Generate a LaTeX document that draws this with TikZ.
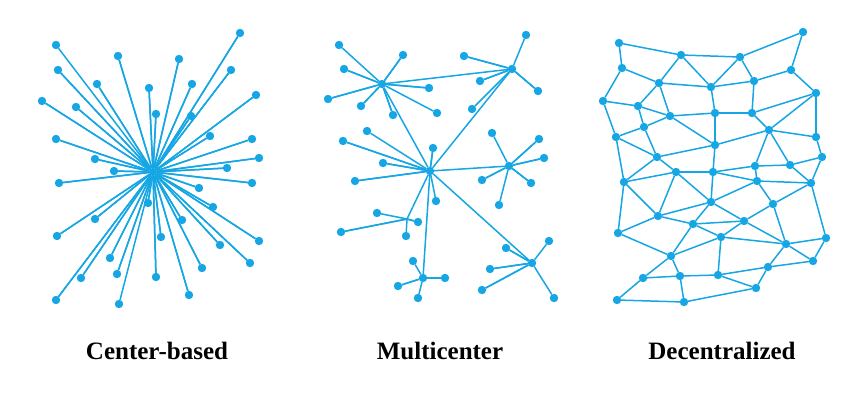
\documentclass[tikz,border=0pt]{standalone}
\usepackage{fontspec}
\setmainfont{Liberation Serif}
\usepackage{tikz}
\usepackage{tkz-graph}
\definecolor{netblue}{RGB}{22,166,228}

\begin{document}
\begin{tikzpicture}[x=0.5pt, y=-0.5pt]
        \GraphInit[vstyle=Simple]
        \SetVertexNoLabel
        \tikzset{VertexStyle/.style={shape=circle, fill=netblue, draw=none, inner sep=0pt, minimum size=4.2pt},
                 EdgeStyle/.style={draw=netblue, line width=0.75pt},
                 caption/.style={font=\fontsize{12.5}{15}\selectfont\bfseries, text=black}}
        \useasboundingbox (0,0) rectangle (865,407);

        % center-based
        \Vertex[x=153,y=172]{C}
        \Vertex[x=56,y=45]{P1} \Vertex[x=118,y=56]{P2} \Vertex[x=179,y=59]{P3} \Vertex[x=240,y=33]{P4}
        \Vertex[x=58,y=70]{P5} \Vertex[x=231,y=70]{P6} \Vertex[x=97,y=84]{P7} \Vertex[x=149,y=88]{P8}
        \Vertex[x=192,y=84]{P9} \Vertex[x=42,y=101]{P10} \Vertex[x=76,y=107]{P11} \Vertex[x=256,y=95]{P12}
        \Vertex[x=156,y=114]{P13} \Vertex[x=191,y=116]{P14} \Vertex[x=56,y=139]{P15} \Vertex[x=210,y=136]{P16}
        \Vertex[x=252,y=139]{P17} \Vertex[x=95,y=159]{P18} \Vertex[x=259,y=158]{P19} \Vertex[x=114,y=171]{P20}
        \Vertex[x=227,y=168]{P21} \Vertex[x=59,y=183]{P22} \Vertex[x=252,y=183]{P23} \Vertex[x=199,y=188]{P24}
        \Vertex[x=148,y=203]{P25} \Vertex[x=213,y=207]{P26} \Vertex[x=95,y=219]{P27} \Vertex[x=182,y=220]{P28}
        \Vertex[x=57,y=236]{P29} \Vertex[x=161,y=237]{P30} \Vertex[x=259,y=241]{P31} \Vertex[x=220,y=245]{P32}
        \Vertex[x=110,y=258]{P33} \Vertex[x=250,y=263]{P34} \Vertex[x=202,y=268]{P35} \Vertex[x=117,y=274]{P36}
        \Vertex[x=81,y=278]{P37} \Vertex[x=156,y=277]{P38} \Vertex[x=189,y=295]{P39} \Vertex[x=56,y=300]{P40}
        \Vertex[x=119,y=304]{P41}
        \Edges(P1,C,P2,C,P3,C,P4,C,P5,C,P6,C,P7,C,P8,C,P9,C,P10,C,P11,C,P12,C,P13,C,P14)
        \Edges(P14,C,P15,C,P16,C,P17,C,P18,C,P19,C,P20,C,P21,C,P22,C,P23,C,P24,C,P25,C,P26,C,P27)
        \Edges(P27,C,P28,C,P29,C,P30,C,P31,C,P32,C,P33,C,P34,C,P35,C,P36,C,P37,C,P38,C,P39,C,P40,C,P41)

        % multicenter
        \Vertex[x=382,y=84]{H1} \Vertex[x=512,y=69]{H2} \Vertex[x=430,y=171]{H3}
        \Vertex[x=509,y=166]{H4} \Vertex[x=423,y=278]{H6} \Vertex[x=532,y=263]{H7}
        \coordinate (J) at (407,219);
        \Vertex[x=339,y=45]{Q1} \Vertex[x=403,y=55]{Q2} \Vertex[x=344,y=69]{Q3} \Vertex[x=328,y=99]{Q4}
        \Vertex[x=429,y=88]{Q5} \Vertex[x=361,y=106]{Q6} \Vertex[x=393,y=115]{Q7} \Vertex[x=437,y=113]{Q8}
        \Vertex[x=526,y=35]{Q9} \Vertex[x=464,y=56]{Q10} \Vertex[x=480,y=81]{Q11} \Vertex[x=538,y=91]{Q12}
        \Vertex[x=472,y=109]{Q13}
        \Vertex[x=367,y=131]{Q14} \Vertex[x=343,y=141]{Q15} \Vertex[x=433,y=148]{Q16} \Vertex[x=383,y=163]{Q17}
        \Vertex[x=355,y=181]{Q18} \Vertex[x=436,y=201]{Q19}
        \Vertex[x=492,y=133]{Q20} \Vertex[x=539,y=139]{Q21} \Vertex[x=544,y=158]{Q22} \Vertex[x=482,y=180]{Q23}
        \Vertex[x=531,y=183]{Q24} \Vertex[x=499,y=205]{Q25}
        \Vertex[x=377,y=213]{Q26} \Vertex[x=418,y=222]{Q27} \Vertex[x=341,y=232]{Q28} \Vertex[x=406,y=236]{Q29}
        \Vertex[x=413,y=261]{Q30} \Vertex[x=445,y=278]{Q31} \Vertex[x=398,y=286]{Q32} \Vertex[x=418,y=298]{Q33}
        \Vertex[x=549,y=241]{Q34} \Vertex[x=506,y=248]{Q35} \Vertex[x=490,y=269]{Q36} \Vertex[x=482,y=290]{Q37}
        \Vertex[x=554,y=298]{Q38}
        \Edges(Q1,H1,Q2,H1,Q3,H1,Q4,H1,Q5,H1,Q6,H1,Q7,H1,Q8)
        \Edges(Q9,H2,Q10,H2,Q11,H2,Q12,H2,Q13)
        \Edges(Q14,H3,Q15,H3,Q16,H3,Q17,H3,Q18,H3,Q19)
        \Edges(Q20,H4,Q21,H4,Q22,H4,Q23,H4,Q24,H4,Q25)
        \Edges(Q26,J,Q27,J,Q28,J,Q29)
        \Edges(Q30,H6,Q31,H6,Q32,H6,Q33)
        \Edges(Q34,H7,Q35,H7,Q36,H7,Q37,H7,Q38)
        \Edges(H1,H2,H3,H1) \Edges(H4,H3,J) \Edges(H6,H3,H7)

        % decentralized
        \Vertex[x=619,y=43]{a1} \Vertex[x=681,y=55]{a2} \Vertex[x=740,y=57]{a3} \Vertex[x=803,y=32]{a4}
        \Vertex[x=622,y=68]{b1} \Vertex[x=659,y=83]{b2} \Vertex[x=711,y=87]{b3} \Vertex[x=754,y=81]{b4}
        \Vertex[x=791,y=70]{b5}
        \Vertex[x=603,y=101]{c1} \Vertex[x=638,y=106]{c2} \Vertex[x=670,y=116]{c3} \Vertex[x=715,y=113]{c4}
        \Vertex[x=752,y=113]{c5} \Vertex[x=816,y=93]{c6}
        \Vertex[x=644,y=127]{d1} \Vertex[x=616,y=137]{d2} \Vertex[x=769,y=130]{d3} \Vertex[x=816,y=137]{d4}
        \Vertex[x=715,y=145]{e1} \Vertex[x=657,y=157]{e2} \Vertex[x=822,y=157]{e3}
        \Vertex[x=755,y=166]{f1} \Vertex[x=790,y=165]{f2} \Vertex[x=676,y=172]{f3} \Vertex[x=713,y=172]{f4}
        \Vertex[x=624,y=182]{g1} \Vertex[x=757,y=181]{g2} \Vertex[x=811,y=183]{g3}
        \Vertex[x=711,y=202]{h1} \Vertex[x=773,y=204]{h2}
        \Vertex[x=658,y=216]{i1} \Vertex[x=693,y=224]{i2} \Vertex[x=744,y=221]{i3}
        \Vertex[x=618,y=233]{j1} \Vertex[x=721,y=237]{j2} \Vertex[x=786,y=244]{j3} \Vertex[x=826,y=238]{j4}
        \Vertex[x=671,y=256]{k1} \Vertex[x=813,y=261]{k2} \Vertex[x=768,y=267]{k3}
        \Vertex[x=643,y=278]{l1} \Vertex[x=680,y=276]{l2} \Vertex[x=718,y=275]{l3} \Vertex[x=756,y=288]{l4}
        \Vertex[x=617,y=300]{m1} \Vertex[x=684,y=302]{m2}
        \Edges(b1,a1,a2,a3,a4,b5,b4,b3,b2,b1,c1,c2,b2,c3,c2,d1,c3,c4,c5,c6,b5)
        \Edges(a2,b2) \Edges(a2,b3,a3,b4,c5,d3,c6,d4,e3,f2,d3,d4) \Edges(b3,c4,e1,c3) \Edges(c1,d2,d1,e2,d2,g1)
        \Edges(e2,e1,d3,f1) \Edges(e1,f4,f3,e2,g1,f3,i1,g1,j1,i1,h1,f3)
        \Edges(f4,f1,f2,g3,g2,f1) \Edges(f4,g2,h1,f4) \Edges(g2,h2,g3,e3) \Edges(g3,j4)
        \Edges(h1,i2,i1) \Edges(h1,i3,h2,j3) \Edges(i2,i3,j2,i2,k1,j1) \Edges(i3,j3,j2,k1)
        \Edges(j2,l3,k3,j3,j4,k2,j3) \Edges(k2,k3,l4,l3,l2,k1,l1,l2,m2,l4) \Edges(l1,m1,m2)

        % captions
        \node[caption] (cap1) at (157,351) {Center-based};
        \node[caption] (cap2) at (440,351) {Multicenter};
        \node[caption] (cap3) at (722,351) {Decentralized};
    \end{tikzpicture}
\end{document}
